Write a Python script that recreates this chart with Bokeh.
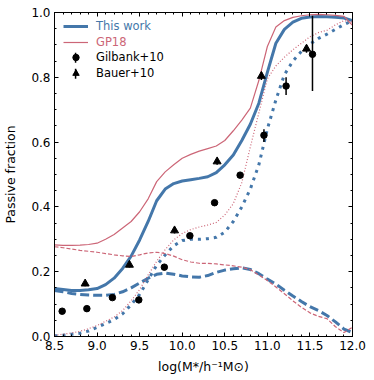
from bokeh.plotting import figure
from bokeh.models import (Range1d, LinearAxis, SingleIntervalTicker, PrintfTickFormatter,
                          CustomJSTickFormatter, Legend, LegendItem, ColumnDataSource)
from bokeh.embed import file_html
from bokeh.resources import INLINE

# ---------------- data ----------------
logm = [8.5, 8.6, 8.7, 8.8, 8.9, 9.0, 9.1, 9.2, 9.3, 9.4, 9.5, 9.6, 9.7, 9.8, 9.9,
        10.0, 10.1, 10.2, 10.3, 10.4, 10.5, 10.6, 10.7, 10.8, 10.9, 11.0, 11.1, 11.2,
        11.3, 11.4, 11.5, 11.6, 11.7, 11.8, 11.9, 12.0]

tw_all = [0.148, 0.145, 0.142, 0.142, 0.144, 0.148, 0.160, 0.180, 0.210, 0.248, 0.298, 0.355,
          0.419, 0.455, 0.472, 0.480, 0.484, 0.488, 0.493, 0.506, 0.530, 0.560, 0.605, 0.655,
          0.720, 0.815, 0.905, 0.948, 0.970, 0.982, 0.986, 0.988, 0.987, 0.985, 0.983, 0.975]
tw_cen = [0.142, 0.138, 0.133, 0.130, 0.128, 0.127, 0.127, 0.130, 0.138, 0.150, 0.165, 0.180,
          0.192, 0.196, 0.192, 0.187, 0.184, 0.183, 0.188, 0.198, 0.205, 0.209, 0.212, 0.207,
          0.194, 0.177, 0.162, 0.143, 0.125, 0.108, 0.092, 0.080, 0.065, 0.045, 0.023, 0.012]
tw_sat = [0.002, 0.004, 0.007, 0.010, 0.017, 0.028, 0.040, 0.052, 0.070, 0.098, 0.130, 0.175,
          0.220, 0.252, 0.280, 0.296, 0.300, 0.300, 0.302, 0.306, 0.322, 0.355, 0.400, 0.455,
          0.530, 0.640, 0.730, 0.808, 0.850, 0.880, 0.902, 0.920, 0.933, 0.948, 0.963, 0.975]

gp_all = [0.283, 0.281, 0.281, 0.282, 0.284, 0.288, 0.300, 0.315, 0.335, 0.355, 0.385, 0.425,
          0.478, 0.508, 0.530, 0.550, 0.562, 0.572, 0.580, 0.588, 0.605, 0.635, 0.668, 0.705,
          0.790, 0.895, 0.955, 0.975, 0.985, 0.990, 0.993, 0.994, 0.993, 0.991, 0.988, 0.960]
gp_cen = [0.277, 0.274, 0.270, 0.266, 0.263, 0.260, 0.256, 0.252, 0.249, 0.247, 0.252, 0.258,
          0.260, 0.256, 0.248, 0.237, 0.230, 0.226, 0.226, 0.224, 0.221, 0.218, 0.214, 0.206,
          0.190, 0.173, 0.153, 0.132, 0.110, 0.090, 0.073, 0.062, 0.055, 0.030, 0.012, 0.029]
gp_sat = [0.004, 0.007, 0.011, 0.016, 0.024, 0.034, 0.047, 0.060, 0.080, 0.110, 0.145, 0.190,
          0.232, 0.268, 0.298, 0.318, 0.330, 0.338, 0.344, 0.352, 0.375, 0.410, 0.475, 0.585,
          0.690, 0.795, 0.835, 0.862, 0.885, 0.905, 0.925, 0.938, 0.945, 0.962, 0.975, 0.970]

gil_x = [8.59, 8.88, 9.18, 9.49, 9.79, 10.09, 10.38, 10.68, 10.96, 11.22, 11.53]
gil_y = [0.078, 0.086, 0.120, 0.113, 0.214, 0.311, 0.413, 0.498, 0.621, 0.773, 0.871]
gil_lo = [0.074, 0.082, 0.115, 0.108, 0.208, 0.304, 0.405, 0.490, 0.600, 0.745, 0.758]
gil_hi = [0.082, 0.090, 0.125, 0.118, 0.220, 0.318, 0.421, 0.506, 0.640, 0.800, 0.990]

bau_x = [8.86, 9.38, 9.91, 10.41, 10.93, 11.46]
bau_y = [0.163, 0.221, 0.327, 0.540, 0.804, 0.888]
bau_lo = [0.155, 0.213, 0.318, 0.530, 0.792, 0.876]
bau_hi = [0.171, 0.229, 0.336, 0.550, 0.816, 0.900]

x_ticks_interval = 0.5
y_ticks_interval = 0.2

BLUE = "#4477AA"
RED = "#CC6677"
FONT = "DejaVu Sans"

W, H = 372, 378
BL, BR, BT, BB = 48, 20, 12, 42
FW, FH = W - BL - BR, H - BT - BB

# ---------------- figure ----------------
p = figure(width=W, height=H, output_backend="svg", toolbar_location=None,
           x_range=Range1d(8.5, 12.0), y_range=Range1d(0.0, 1.0),
           min_border_left=BL, min_border_right=BR, min_border_top=BT, min_border_bottom=BB,
           x_axis_label="log(M*/h\u207b\u00b9M\u2299)", y_axis_label="Passive fraction")
p.xgrid.visible = False
p.ygrid.visible = False
p.outline_line_color = "black"
p.outline_line_width = 1
p.background_fill_color = "white"
p.border_fill_color = "white"
# pixel-space ranges of the frame, used only for the legend's error-bar glyphs
p.extra_x_ranges = {"px": Range1d(0, FW)}
p.extra_y_ranges = {"py": Range1d(0, FH)}

xt = SingleIntervalTicker(interval=x_ticks_interval, num_minor_ticks=5)
yt = SingleIntervalTicker(interval=y_ticks_interval, num_minor_ticks=4)

def style(ax, labels=True):
    ax.major_tick_in = 4
    ax.major_tick_out = 0
    ax.minor_tick_in = 2
    ax.minor_tick_out = 0
    ax.axis_line_color = "black"
    ax.major_tick_line_color = "black"
    ax.minor_tick_line_color = "black"
    ax.major_label_text_font = FONT
    ax.major_label_text_font_size = "12px"
    ax.major_label_text_color = "black"
    ax.major_label_standoff = 4 if labels else 0
    ax.axis_label_text_font = FONT
    ax.axis_label_text_font_size = "12.5px"
    ax.axis_label_text_font_style = "normal"
    ax.axis_label_text_color = "black"

p.xaxis.ticker = xt
p.yaxis.ticker = yt
p.xaxis.formatter = PrintfTickFormatter(format="%.1f")
p.yaxis.formatter = PrintfTickFormatter(format="%.1f")
style(p.xaxis[0])
style(p.yaxis[0])
p.xaxis.axis_label_standoff = 6
p.yaxis.axis_label_standoff = 10

blank = CustomJSTickFormatter(code="return ''")
top = LinearAxis(ticker=xt, formatter=blank)
right = LinearAxis(ticker=yt, formatter=blank)
style(top, labels=False)
style(right, labels=False)
p.add_layout(top, "above")
p.add_layout(right, "right")

# ---------------- lines ----------------
r_tw = p.line(logm, tw_all, line_color=BLUE, line_width=3, line_join="round")
p.line(logm, tw_cen, line_color=BLUE, line_width=3, line_dash="9 4")
p.line(logm, tw_sat, line_color=BLUE, line_width=3, line_dash="3 5")
r_gp = p.line(logm, gp_all, line_color=RED, line_width=1.2)
p.line(logm, gp_cen, line_color=RED, line_width=1.2, line_dash="4 2")
p.line(logm, gp_sat, line_color=RED, line_width=1.2, line_dash="1 2")

# ---------------- data points ----------------
gsrc = ColumnDataSource(dict(x=gil_x, y=gil_y, lo=gil_lo, hi=gil_hi))
bsrc = ColumnDataSource(dict(x=bau_x, y=bau_y, lo=bau_lo, hi=bau_hi))
p.segment(x0="x", y0="lo", x1="x", y1="hi", source=gsrc, line_color="black", line_width=1.5)
r_gm = p.scatter(x="x", y="y", source=gsrc, marker="circle", size=6.5,
                 fill_color="black", line_color="black")
p.segment(x0="x", y0="lo", x1="x", y1="hi", source=bsrc, line_color="black", line_width=1.5)
r_bm = p.scatter(x="x", y="y", source=bsrc, marker="triangle", size=8,
                 fill_color="black", line_color="black")

# ---------------- legends (one per entry, coloured text) ----------------
entries = [("This work", [r_tw], BLUE), ("GP18", [r_gp], RED),
           ("Gilbank+10", [r_gm], "black"), ("Bauer+10", [r_bm], "black")]
row_tops = [5.7, 21.7, 37.3, 53.3]
LX, GW, GH = 9, 25, 16
for (lab, rs, col), rt in zip(entries, row_tops):
    lg = Legend(items=[LegendItem(label=lab, renderers=rs)],
                location=(LX, FH - rt - GH),
                border_line_color=None, background_fill_alpha=0,
                glyph_width=GW, glyph_height=GH, label_height=GH,
                label_standoff=8, padding=0, margin=0, spacing=0,
                label_text_font=FONT, label_text_font_size="11.5px",
                label_text_color=col, label_text_baseline="middle")
    p.add_layout(lg, "center")

# vertical error-bar strokes of the two marker legend entries
bar_cx = [LX + GW / 2] * 2
bar_cy = [FH - (rt + GH / 2) for rt in row_tops[2:]]
p.segment(x0=bar_cx, x1=bar_cx, y0=[c - 5 for c in bar_cy], y1=[c + 5 for c in bar_cy],
          x_range_name="px", y_range_name="py", line_color="black", line_width=1.5)

open("out.html", "w").write(file_html(p, INLINE))
